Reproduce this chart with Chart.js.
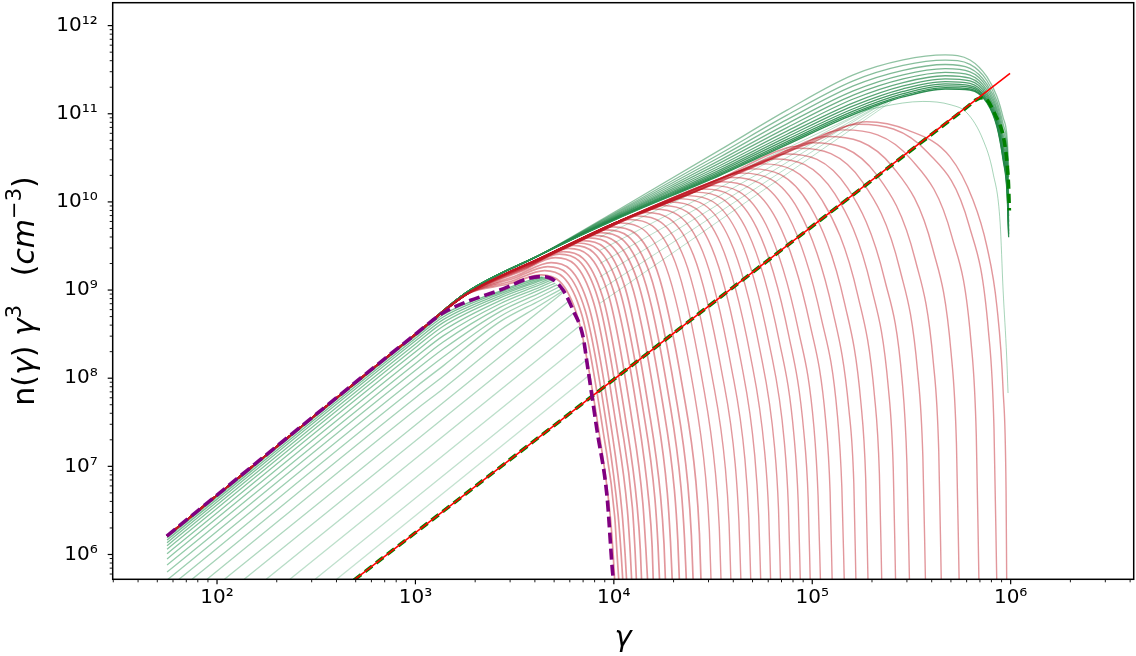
<!DOCTYPE html>
<html>
<head>
<meta charset="utf-8">
<title>n(γ) γ³ spectra</title>
<script src="https://cdn.jsdelivr.net/npm/chart.js@4.4.1/dist/chart.umd.min.js"></script>
<style>
  html, body { margin: 0; padding: 0; background: #fff; }
  canvas { display: block; }
</style>
</head>
<body>
<canvas id="spectra" width="1136" height="656"></canvas>
<script>
// axis ranges, ticks and titles
const xMin = 29.8, xMax = 4.17e6;
const yMin = 5.23e5, yMax = 1.82e12;
const xTickValues = [1e2, 1e3, 1e4, 1e5, 1e6];
const xTickLabels = ["10²", "10³", "10⁴", "10⁵", "10⁶"];
const yTickValues = [1e6, 1e7, 1e8, 1e9, 1e10, 1e11, 1e12];
const yTickLabels = ["10⁶", "10⁷", "10⁸", "10⁹", "10¹⁰", "10¹¹", "10¹²"];
const xTitle = "γ";
const yTitleParts = [["n(", "normal"], ["γ", "italic"], [")", "normal"], [" ", "normal"], ["γ", "italic"], ["3", "sup"],
                     ["   (", "normal"], ["cm", "italic"], ["−3", "sup"], [")", "normal"]];

// purple dashed curve [gamma, n gamma^3]
const purpleCurve = [[55.8,1.62e6],[262,2.77e7],[1019,3.26e8],[1377,5.50e8],[2667,1.00e9],[4246,1.42e9],[4764,1.37e9],
  [5546,1.00e9],[6223,5.94e8],[6998,2.94e8],[7328,1.49e8],[8222,2.58e7],[9247,4.49e6],[9908,5.56e5],[1.0e4,5.0e5]];

// straight red line and dashed green curve
const redLine = [[490,5.12e5],[9.93e5,2.88e11]];
const greenDashed = [[490,5.12e5],[1e3,1.77e6],[1e4,9.7e7],[1e5,5.3e9],[3e5,3.55e10],[6e5,1.18e11],[6.8e5,1.47e11],
  [7.3e5,1.52e11],[8.4e5,9.5e10],[9.2e5,5.4e10],[9.55e5,3.0e10],[9.75e5,1.6e10],[9.85e5,8.0e9]];

// early green curves (below the purple one)
const earlyGreen = [
  [[56,1.55e6],[1020,3.11e8],[1380,5.25e8],[2670,9.75e8],[4250,1.39e9],[4370,1.40e9]],
  [[56,1.46e6],[1020,2.94e8],[1380,4.95e8],[2670,9.42e8],[4250,1.36e9],[4430,1.40e9]],
  [[56,1.36e6],[1020,2.74e8],[1380,4.62e8],[2670,9.04e8],[4250,1.31e9],[4560,1.39e9]],
  [[56,1.26e6],[1020,2.53e8],[1380,4.27e8],[2670,8.61e8],[4250,1.27e9],[4700,1.38e9]],
  [[56,1.15e6],[1020,2.31e8],[1380,3.89e8],[2670,8.15e8],[4250,1.21e9],[4800,1.35e9]],
  [[56,1.02e6],[1020,2.06e8],[1380,3.47e8],[2670,7.60e8],[4250,1.15e9],[4880,1.31e9]],
  [[56,8.91e5],[1020,1.79e8],[1380,3.02e8],[2670,7.00e8],[4250,1.08e9],[4970,1.26e9]],
  [[56,7.59e5],[1020,1.52e8],[1380,2.57e8],[2670,6.35e8],[4250,1.01e9],[5070,1.20e9]],
  [[56,6.31e5],[1020,1.27e8],[1380,2.14e8],[2670,5.69e8],[4250,9.28e8],[5190,1.15e9]],
  [[56,5.13e5],[1020,1.03e8],[1380,1.74e8],[2670,5.02e8],[4250,8.45e8],[5320,1.09e9]],
  [[64.3,5.23e5],[1020,8.18e7],[1380,1.38e8],[2670,4.38e8],[4250,7.62e8],[5470,1.03e9]],
  [[74.8,5.23e5],[1020,6.21e7],[1380,1.05e8],[2670,3.50e8],[4250,6.73e8],[5570,9.86e8]],
  [[89.1,5.23e5],[1020,4.50e7],[1380,7.59e7],[2670,2.54e8],[4250,5.82e8],[5600,9.55e8]],
  [[109,5.23e5],[5920,7.48e8]],
  [[137,5.23e5],[6300,5.53e8]],
  [[177,5.23e5],[6680,3.89e8]],
  [[233,5.23e5],[7060,2.59e8]],
  [[312,5.23e5],[7290,1.62e8]],
  [[401,5.23e5],[7480,1.07e8]]
];

// green band (late curves peaking near 4e5)
const bandPrefix = [[56,1.62e6],[262,2.75e7],[1020,3.26e8],[1820,9.51e8],[4250,2.51e9]];
const bandGamma = [1.07e4,3.43e4,7.46e4,1.61e5,2.87e5,4.68e5,6.24e5,7.60e5,8.53e5,9.16e5,9.59e5,9.77e5];
const bandValues = [
  [6.61e9,2.00e10,4.47e10,9.77e10,1.55e11,1.91e11,1.86e11,1.33e11,7.10e10,2.99e10,1.26e10,3.98e9],
  [6.67e9,2.05e10,4.63e10,1.02e11,1.61e11,1.98e11,1.92e11,1.36e11,7.33e10,3.13e10,1.34e10,4.29e9],
  [6.75e9,2.12e10,4.84e10,1.07e11,1.69e11,2.07e11,2.00e11,1.41e11,7.62e10,3.30e10,1.44e10,4.70e9],
  [6.84e9,2.21e10,5.12e10,1.14e11,1.79e11,2.18e11,2.09e11,1.47e11,8.00e10,3.53e10,1.57e10,5.25e9],
  [6.95e9,2.31e10,5.46e10,1.23e11,1.92e11,2.32e11,2.21e11,1.54e11,8.45e10,3.82e10,1.75e10,5.97e9],
  [7.08e9,2.44e10,5.86e10,1.33e11,2.07e11,2.49e11,2.36e11,1.63e11,9.00e10,4.18e10,1.96e10,6.92e9],
  [7.23e9,2.59e10,6.35e10,1.47e11,2.26e11,2.70e11,2.53e11,1.73e11,9.66e10,4.61e10,2.24e10,8.17e9],
  [7.40e9,2.77e10,6.97e10,1.63e11,2.49e11,2.95e11,2.74e11,1.85e11,1.05e11,5.15e10,2.59e10,9.82e9],
  [7.59e9,2.98e10,7.69e10,1.82e11,2.77e11,3.25e11,2.99e11,2.00e11,1.14e11,5.82e10,3.04e10,1.20e10],
  [7.80e9,3.23e10,8.57e10,2.07e11,3.11e11,3.62e11,3.28e11,2.16e11,1.26e11,6.65e10,3.62e10,1.50e10],
  [8.04e9,3.52e10,9.64e10,2.36e11,3.53e11,4.06e11,3.63e11,2.37e11,1.39e11,7.69e10,4.39e10,1.91e10],
  [8.32e9,3.89e10,1.10e11,2.76e11,4.08e11,4.65e11,4.08e11,2.62e11,1.57e11,9.08e10,5.46e10,2.51e10]
];

// pale single green arc and faint green lines in the red region
const paleArc = [[1.07e4,6.61e9],[3.43e4,2.00e10],[7.46e4,4.47e10],[1.38e5,8.91e10],[2.24e5,1.20e11],[3.61e5,1.38e11],
  [5.01e5,1.26e11],[6.03e5,1.02e11],[7.26e5,5.05e10],[8.15e5,2.13e10],[8.85e5,5.77e9],[9.16e5,1.0e9],[9.55e5,1.74e8],[9.70e5,6.79e7]];
const faintGreen = [
  [[8510,3.98e9],[2.00e5,1.17e11]],
  [[8510,2.82e9],[2.09e5,1.23e11]],
  [[8510,2.00e9],[2.19e5,1.26e11]],
  [[8510,1.41e9],[2.29e5,1.32e11]],
  [[8510,1.00e9],[2.40e5,1.35e11]],
  [[8510,7.08e8],[2.51e5,1.38e11]]
];

// red curves: shared upper envelope, then each curve's own turnover
const redEnvelope = [[56,1.62e6],[262,2.75e7],[1020,3.26e8],[1820,9.02e8],[4250,2.29e9],[1.07e4,6.10e9],
  [3.43e4,1.84e10],[7.46e4,4.12e10],[1.61e5,9.02e10],[2.87e5,1.43e11]];
const redCurves = [
  [[2930,1.17e9],[4310,1.49e9],[6600,4.78e8],[8530,2.03e7],[9620,2.56e6],[9950,9.10e5],[1.01e4,5.0e5]],
  [[3040,1.26e9],[4480,1.66e9],[6890,5.27e8],[8910,2.20e7],[1.01e4,2.70e6],[1.04e4,9.46e5],[1.06e4,5.0e5]],
  [[3140,1.36e9],[4650,1.84e9],[7180,5.82e8],[9320,2.38e7],[1.05e4,2.85e6],[1.09e4,9.70e5],[1.11e4,5.0e5]],
  [[3260,1.47e9],[4830,2.05e9],[7490,6.43e8],[9750,2.57e7],[1.10e4,3.01e6],[1.14e4,1.00e6],[1.16e4,5.0e5]],
  [[3400,1.62e9],[5070,2.33e9],[7900,7.26e8],[1.03e4,2.82e7],[1.17e4,3.21e6],[1.21e4,1.05e6],[1.23e4,5.0e5]],
  [[3560,1.75e9],[5320,2.56e9],[8330,7.93e8],[1.09e4,3.05e7],[1.24e4,3.41e6],[1.28e4,1.08e6],[1.30e4,5.0e5]],
  [[3710,1.85e9],[5570,2.73e9],[8770,8.43e8],[1.15e4,3.26e7],[1.31e4,3.58e6],[1.36e4,1.12e6],[1.38e4,5.0e5]],
  [[3910,1.98e9],[5900,2.97e9],[9350,9.16e8],[1.23e4,3.55e7],[1.40e4,3.81e6],[1.45e4,1.16e6],[1.48e4,5.0e5]],
  [[4110,2.12e9],[6250,3.21e9],[9950,9.89e8],[1.32e4,3.85e7],[1.50e4,4.08e6],[1.56e4,1.22e6],[1.58e4,5.0e5]],
  [[4340,2.25e9],[6620,3.42e9],[1.06e4,1.06e9],[1.41e4,4.15e7],[1.61e4,4.34e6],[1.67e4,1.26e6],[1.70e4,5.0e5]],
  [[4570,2.38e9],[7010,3.63e9],[1.13e4,1.13e9],[1.50e4,4.47e7],[1.72e4,4.59e6],[1.79e4,1.32e6],[1.82e4,5.0e5]],
  [[4850,2.53e9],[7500,3.90e9],[1.22e4,1.21e9],[1.63e4,4.84e7],[1.86e4,4.98e6],[1.93e4,1.39e6],[1.97e4,5.0e5]],
  [[5150,2.70e9],[8020,4.18e9],[1.31e4,1.31e9],[1.76e4,5.30e7],[2.02e4,5.35e6],[2.10e4,1.47e6],[2.14e4,5.0e5]],
  [[5480,2.88e9],[8570,4.49e9],[1.41e4,1.41e9],[1.90e4,5.79e7],[2.18e4,5.75e6],[2.27e4,1.55e6],[2.32e4,5.0e5]],
  [[5830,3.07e9],[9170,4.82e9],[1.52e4,1.52e9],[2.05e4,6.35e7],[2.36e4,6.25e6],[2.46e4,1.63e6],[2.51e4,5.0e5]],
  [[6250,3.30e9],[9910,5.22e9],[1.65e4,1.67e9],[2.24e4,7.01e7],[2.59e4,6.81e6],[2.70e4,1.73e6],[2.75e4,5.0e5]],
  [[6810,3.61e9],[1.09e4,5.77e9],[1.83e4,1.84e9],[2.51e4,8.04e7],[2.90e4,7.62e6],[3.03e4,1.87e6],[3.09e4,5.0e5]],
  [[7440,3.97e9],[1.20e4,6.32e9],[2.04e4,2.05e9],[2.80e4,9.10e7],[3.25e4,8.51e6],[3.40e4,2.02e6],[3.47e4,5.0e5]],
  [[8120,4.36e9],[1.32e4,6.92e9],[2.27e4,2.25e9],[3.13e4,1.03e8],[3.65e4,9.44e6],[3.81e4,2.19e6],[3.89e4,5.0e5]],
  [[8850,4.76e9],[1.45e4,7.59e9],[2.52e4,2.49e9],[3.50e4,1.17e8],[4.09e4,1.06e7],[4.27e4,2.35e6],[4.37e4,5.0e5]],
  [[9650,5.22e9],[1.60e4,8.30e9],[2.80e4,2.75e9],[3.91e4,1.33e8],[4.58e4,1.19e7],[4.79e4,2.55e6],[4.90e4,5.0e5]],
  [[1.05e4,5.73e9],[1.76e4,9.10e9],[3.11e4,3.05e9],[4.38e4,1.52e8],[5.13e4,1.33e7],[5.37e4,2.77e6],[5.50e4,5.0e5]],
  [[1.15e4,6.24e9],[1.93e4,9.98e9],[3.45e4,3.37e9],[4.89e4,1.75e8],[5.75e4,1.50e7],[6.03e4,3.01e6],[6.17e4,5.0e5]],
  [[1.25e4,6.76e9],[2.13e4,1.09e10],[3.84e4,3.72e9],[5.47e4,2.00e8],[6.45e4,1.69e7],[6.76e4,3.28e6],[6.92e4,5.0e5]],
  [[1.37e4,7.31e9],[2.34e4,1.18e10],[4.27e4,4.08e9],[6.11e4,2.28e8],[7.23e4,1.91e7],[7.58e4,3.54e6],[7.76e4,5.0e5]],
  [[1.49e4,7.93e9],[2.58e4,1.29e10],[4.74e4,4.50e9],[6.83e4,2.59e8],[8.10e4,2.16e7],[8.50e4,3.86e6],[8.71e4,5.0e5]],
  [[1.63e4,8.57e9],[2.84e4,1.40e10],[5.27e4,4.98e9],[7.63e4,2.99e8],[9.07e4,2.44e7],[9.54e4,4.22e6],[9.77e4,5.0e5]],
  [[1.78e4,9.28e9],[3.12e4,1.53e10],[5.85e4,5.50e9],[8.53e4,3.44e8],[1.02e5,2.76e7],[1.07e5,4.62e6],[1.10e5,5.0e5]],
  [[1.97e4,1.02e10],[3.50e4,1.69e10],[6.64e4,6.18e9],[9.75e4,4.06e8],[1.17e5,3.22e7],[1.23e5,5.13e6],[1.26e5,5.0e5]],
  [[2.19e4,1.12e10],[3.93e4,1.89e10],[7.54e4,7.05e9],[1.11e5,4.80e8],[1.34e5,3.74e7],[1.41e5,5.71e6],[1.45e5,5.0e5]],
  [[2.43e4,1.23e10],[4.41e4,2.12e10],[8.55e4,7.98e9],[1.27e5,5.74e8],[1.53e5,4.41e7],[1.62e5,6.38e6],[1.66e5,5.0e5]],
  [[2.69e4,1.36e10],[4.94e4,2.37e10],[9.70e4,9.12e9],[1.46e5,6.89e8],[1.76e5,5.19e7],[1.86e5,7.14e6],[1.91e5,5.0e5]],
  [[3.04e4,1.52e10],[5.65e4,2.70e10],[1.12e5,1.05e10],[1.70e5,8.55e8],[2.06e5,6.25e7],[2.18e5,8.20e6],[2.24e5,5.0e5]],
  [[3.44e4,1.69e10],[6.46e4,3.07e10],[1.30e5,1.23e10],[1.99e5,1.05e9],[2.42e5,7.64e7],[2.56e5,9.46e6],[2.63e5,5.0e5]],
  [[3.88e4,1.91e10],[7.39e4,3.50e10],[1.51e5,1.43e10],[2.32e5,1.30e9],[2.84e5,9.25e7],[3.00e5,1.08e7],[3.09e5,5.0e5]],
  [[4.46e4,2.20e10],[8.61e4,4.06e10],[1.79e5,1.69e10],[2.77e5,1.69e9],[3.40e5,1.16e8],[3.61e5,1.28e7],[3.72e5,5.0e5]],
  [[5.13e4,2.52e10],[1.00e5,4.69e10],[2.12e5,2.01e10],[3.31e5,2.18e9],[4.08e5,1.48e8],[4.34e5,1.51e7],[4.47e5,5.0e5]],
  [[6.00e4,2.94e10],[1.19e5,5.53e10],[2.56e5,2.46e10],[4.05e5,2.92e9],[5.01e5,1.93e8],[5.33e5,1.82e7],[5.50e5,5.0e5]],
  [[7.14e4,3.47e10],[1.44e5,6.56e10],[3.16e5,3.02e10],[5.06e5,4.01e9],[6.31e5,2.60e8],[6.71e5,2.26e7],[6.92e5,5.0e5]],
  [[8.35e4,4.04e10],[1.72e5,7.60e10],[3.82e5,3.64e10],[6.18e5,5.36e9],[7.73e5,3.40e8],[8.24e5,2.74e7],[8.51e5,5.0e5]],
  [[9.07e4,4.38e10],[1.88e5,8.11e10],[3.01e5,6.55e10],[4.95e5,3.24e10],[6.46e5,1.05e10],[7.60e5,3.08e9],[8.53e5,6.43e8],
   [9.16e5,7.35e7],[9.48e5,5.38e6],[9.55e5,5.0e5]]
];

// build datasets
const toXY = arr => arr.map(([x, y]) => ({ x, y }));
const datasets = [];
function addLine(points, color, width, order, dash) {
  datasets.push({
    data: toXY(points),
    borderColor: color,
    borderWidth: width,
    borderDash: dash || [],
    order: order,
    pointRadius: 0,
    fill: false,
    cubicInterpolationMode: "monotone"
  });
}

addLine(purpleCurve, "#800080", 3.6, 0, [11, 5]);
addLine(redLine, "#ff0000", 1.6, 1);
addLine(greenDashed, "#008000", 3.6, 2, [9, 5]);

// the first curves crowd just above 1e4, so they get a slightly thicker pen
redCurves.forEach((c, i) => {
  const head = redEnvelope.filter(p => p[0] < c[0][0] / 1.2);
  addLine(head.concat(c), "rgba(190,25,35,0.45)", i < 16 ? 1.7 : 1.4, 3);
});

faintGreen.forEach(c => addLine(c, "rgba(60,160,100,0.35)", 1, 4));
addLine(bandPrefix.concat(paleArc), "rgba(60,160,100,0.45)", 1, 4);

bandValues.forEach((vals, k) => {
  const a = 0.95 - 0.45 * k / (bandValues.length - 1);
  addLine(bandPrefix.concat(bandGamma.map((g, i) => [g, vals[i]])), `rgba(34,135,72,${a.toFixed(2)})`, 1.3, 5);
});

earlyGreen.forEach((c, i) => {
  const a = 0.7 - 0.4 * i / (earlyGreen.length - 1);
  addLine(c, `rgba(60,160,100,${a.toFixed(2)})`, 1.3, 6);
});

// frame, log tick marks and axis titles
const axisDecor = {
  id: "axisDecor",
  afterDraw(chart) {
    const { ctx, chartArea: a } = chart;
    const xs = chart.scales.x, ys = chart.scales.y;
    ctx.save();
    ctx.strokeStyle = "#000";
    for (let e = 1; e <= 6; e++) {
      for (let m = 1; m <= 9; m++) {
        const v = m * Math.pow(10, e);
        if (v < xMin || v > xMax) continue;
        const px = xs.getPixelForValue(v);
        ctx.lineWidth = m === 1 ? 1.2 : 0.9;
        ctx.beginPath();
        ctx.moveTo(px, a.bottom);
        ctx.lineTo(px, a.bottom + (m === 1 ? 5 : 3));
        ctx.stroke();
      }
    }
    for (let e = 5; e <= 12; e++) {
      for (let m = 1; m <= 9; m++) {
        const v = m * Math.pow(10, e);
        if (v < yMin || v > yMax) continue;
        const py = ys.getPixelForValue(v);
        ctx.lineWidth = m === 1 ? 1.2 : 0.9;
        ctx.beginPath();
        ctx.moveTo(a.left, py);
        ctx.lineTo(a.left - (m === 1 ? 5 : 3), py);
        ctx.stroke();
      }
    }
    ctx.lineWidth = 1.5;
    ctx.strokeRect(a.left, a.top, a.right - a.left, a.bottom - a.top);

    ctx.fillStyle = "#000";
    ctx.textAlign = "center";
    ctx.textBaseline = "alphabetic";
    ctx.font = 'italic 29px "DejaVu Sans"';
    ctx.fillText(xTitle, (a.left + a.right) / 2, 646);

    const fonts = { normal: '30px "DejaVu Sans"', italic: 'italic 30px "DejaVu Sans"', sup: '21px "DejaVu Sans"' };
    ctx.translate(33.5, (a.top + a.bottom) / 2);
    ctx.rotate(-Math.PI / 2);
    ctx.textAlign = "left";
    let total = 0;
    for (const [t, s] of yTitleParts) { ctx.font = fonts[s]; total += ctx.measureText(t).width; }
    let cx = -total / 2;
    for (const [t, s] of yTitleParts) {
      ctx.font = fonts[s];
      ctx.fillText(t, cx, s === "sup" ? -13 : 0);
      cx += ctx.measureText(t).width;
    }
    ctx.restore();
  }
};

Chart.defaults.font.family = '"DejaVu Sans"';

new Chart(document.getElementById("spectra").getContext("2d"), {
  type: "line",
  data: { datasets },
  options: {
    responsive: false,
    animation: false,
    devicePixelRatio: 1,
    events: [],
    layout: { padding: { left: 0, right: 2.3, top: 2.7, bottom: 0 } },
    plugins: { legend: { display: false }, tooltip: { enabled: false } },
    scales: {
      x: {
        type: "logarithmic",
        position: "bottom",
        min: xMin,
        max: xMax,
        grid: { display: false, drawTicks: false },
        border: { display: false },
        afterBuildTicks: s => { s.ticks = xTickValues.map(v => ({ value: v })); },
        afterFit: s => { s.height = 76.7; s.paddingLeft = 0; s.paddingRight = 0; },
        ticks: {
          autoSkip: false,
          maxRotation: 0,
          padding: 6,
          color: "#000",
          font: { size: 20 },
          callback: (v, i) => xTickLabels[i]
        }
      },
      y: {
        type: "logarithmic",
        position: "left",
        min: yMin,
        max: yMax,
        grid: { display: false, drawTicks: false },
        border: { display: false },
        afterBuildTicks: s => { s.ticks = yTickValues.map(v => ({ value: v })); },
        afterFit: s => { s.width = 112.7; s.paddingTop = 0; s.paddingBottom = 0; },
        ticks: {
          autoSkip: false,
          padding: 15,
          color: "#000",
          font: { size: 20 },
          callback: (v, i) => yTickLabels[i]
        }
      }
    }
  },
  plugins: [axisDecor]
});
</script>
</body>
</html>
